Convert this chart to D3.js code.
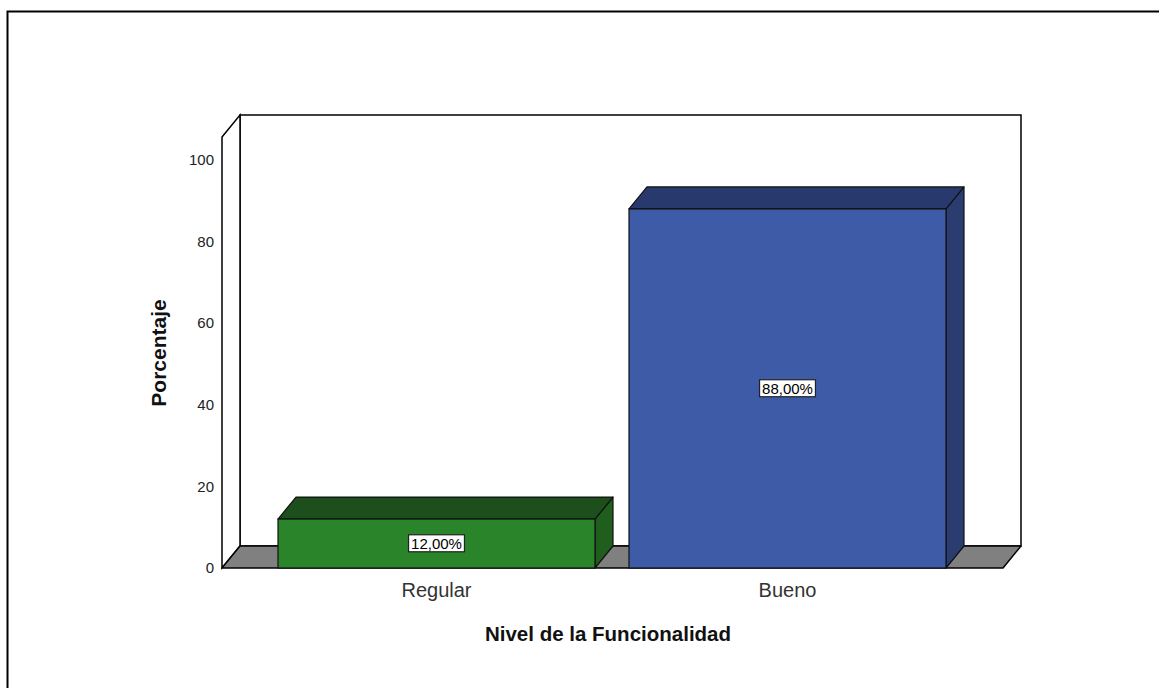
<!DOCTYPE html>
<html>
<head>
<meta charset="utf-8">
<script src="https://cdn.jsdelivr.net/npm/d3@7"></script>
<style>
  html, body { margin: 0; padding: 0; background: #fff; }
  svg { display: block; font-family: "Liberation Sans", Arial, sans-serif; }
</style>
</head>
<body>
<svg id="chart" width="1159" height="688"></svg>
<script>
// Data
const categories = ["Regular", "Bueno"];
const percentages = [12, 88];
const valueLabels = ["12,00%", "88,00%"];
const yTicks = [0, 20, 40, 60, 80, 100];

const frontColors = ["#2a842a", "#3e5ba8"];
const topColors   = ["#1c4f1b", "#27396d"];
const sideColors  = ["#1f5e1d", "#2b3d70"];

const svg = d3.select("#chart");

// 3D depth offset
const dx = 18, dy = -22;

// Plot front plane
const x0 = 222, x1 = 1003;
const y = d3.scaleLinear().domain([0, 100]).range([568, 160]);
const yAxisTop = 137;

const x = d3.scaleBand()
  .domain(categories)
  .range([261, 963])
  .paddingInner(34 / 351)
  .paddingOuter(17 / 351);

// Outer frame
svg.append("rect")
  .attr("x", 7.5).attr("y", 11.5)
  .attr("width", 1200).attr("height", 700)
  .attr("fill", "none").attr("stroke", "#000").attr("stroke-width", 2);

const g = svg.append("g");

// Back wall
g.append("polygon")
  .attr("points", [[x0 + dx, yAxisTop + dy], [x1 + dx, yAxisTop + dy], [x1 + dx, y(0) + dy], [x0 + dx, y(0) + dy]].join(" "))
  .attr("fill", "#fff").attr("stroke", "#000").attr("stroke-width", 1.5);

// Left wall
g.append("polygon")
  .attr("points", [[x0, yAxisTop], [x0 + dx, yAxisTop + dy], [x0 + dx, y(0) + dy], [x0, y(0)]].join(" "))
  .attr("fill", "#fff").attr("stroke", "#000").attr("stroke-width", 1.5);

// Floor
g.append("polygon")
  .attr("points", [[x0, y(0)], [x1, y(0)], [x1 + dx, y(0) + dy], [x0 + dx, y(0) + dy]].join(" "))
  .attr("fill", "#808080").attr("stroke", "#000").attr("stroke-width", 1.5)
  .attr("stroke-linejoin", "round");

// Y tick labels
g.selectAll("text.ytick")
  .data(yTicks)
  .join("text")
  .attr("class", "ytick")
  .attr("x", 214)
  .attr("y", d => y(d))
  .attr("dy", "0.35em")
  .attr("text-anchor", "end")
  .attr("font-size", 15)
  .attr("fill", "#222")
  .text(d => d);

// Bars
const bars = g.selectAll("g.bar")
  .data(categories.map((c, i) => ({ c, v: percentages[i], label: valueLabels[i], i })))
  .join("g")
  .attr("class", "bar");

bars.append("polygon") // side face
  .attr("points", d => {
    const xr = x(d.c) + x.bandwidth(), yt = y(d.v), yb = y(0);
    return [[xr, yt], [xr + dx, yt + dy], [xr + dx, yb + dy], [xr, yb]].join(" ");
  })
  .attr("fill", d => sideColors[d.i]).attr("stroke", "#111").attr("stroke-width", 1.2)
  .attr("stroke-linejoin", "round");

bars.append("polygon") // top face
  .attr("points", d => {
    const xl = x(d.c), xr = xl + x.bandwidth(), yt = y(d.v);
    return [[xl, yt], [xl + dx, yt + dy], [xr + dx, yt + dy], [xr, yt]].join(" ");
  })
  .attr("fill", d => topColors[d.i]).attr("stroke", "#111").attr("stroke-width", 1.2)
  .attr("stroke-linejoin", "round");

bars.append("rect") // front face
  .attr("x", d => x(d.c))
  .attr("y", d => y(d.v))
  .attr("width", x.bandwidth())
  .attr("height", d => y(0) - y(d.v))
  .attr("fill", d => frontColors[d.i]).attr("stroke", "#111").attr("stroke-width", 1.2);

// Value labels
bars.each(function(d) {
  const sel = d3.select(this);
  const cx = x(d.c) + x.bandwidth() / 2;
  const cy = (y(d.v) + y(0)) / 2;
  const t = sel.append("text")
    .attr("x", cx).attr("y", cy).attr("dy", "0.35em")
    .attr("text-anchor", "middle")
    .attr("font-size", 15)
    .attr("fill", "#000")
    .text(d.label);
  const bb = t.node().getBBox();
  sel.insert("rect", "text")
    .attr("x", bb.x - 2.5).attr("y", bb.y)
    .attr("width", bb.width + 5).attr("height", bb.height)
    .attr("fill", "#fff").attr("stroke", "#222").attr("stroke-width", 1.2);
});

// Category labels
g.selectAll("text.xcat")
  .data(categories)
  .join("text")
  .attr("class", "xcat")
  .attr("x", d => x(d) + x.bandwidth() / 2)
  .attr("y", 590)
  .attr("dy", "0.35em")
  .attr("text-anchor", "middle")
  .attr("font-size", 20)
  .attr("fill", "#333")
  .text(d => d);

// Axis titles
svg.append("text")
  .attr("x", 608).attr("y", 634).attr("dy", "0.35em")
  .attr("text-anchor", "middle")
  .attr("font-size", 20.5).attr("font-weight", "bold")
  .attr("fill", "#111")
  .text("Nivel de la Funcionalidad");

svg.append("text")
  .attr("transform", "translate(159,353) rotate(-90)")
  .attr("dy", "0.35em")
  .attr("text-anchor", "middle")
  .attr("font-size", 21).attr("font-weight", "bold")
  .attr("fill", "#111")
  .text("Porcentaje");
</script>
</body>
</html>
